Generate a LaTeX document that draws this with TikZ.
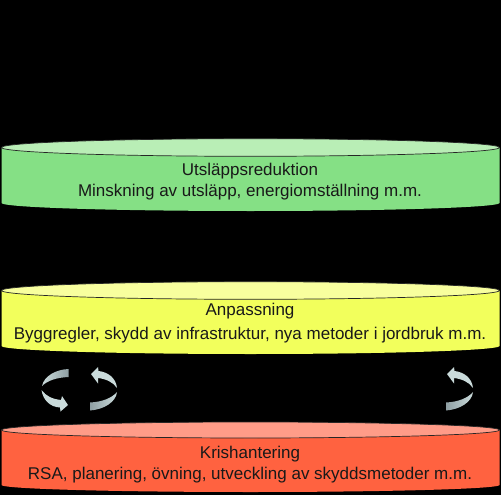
\documentclass[tikz,border=0pt]{standalone}
\usepackage{fontspec}
\setmainfont{Liberation Sans}
\tikzset{
  x=1pt,y=-1pt,
  lbl/.style={font=\fontsize{17}{20}\selectfont,text=black!90,inner sep=0pt,anchor=base}
}
\definecolor{gbody}{HTML}{85E085}\definecolor{glid}{HTML}{B9EEB6}
\definecolor{ybody}{HTML}{F2FF5C}\definecolor{ylid}{HTML}{F8FF9E}
\definecolor{rbody}{HTML}{FF6240}\definecolor{rlid}{HTML}{FF9C88}
\definecolor{swlight}{HTML}{CADBDB}\definecolor{swdark}{HTML}{8F9FA3}
\newcommand{\disc}[6]{% top y of side, bottom y of side, ry, bottom ry, body, lid
  \fill[#5] (1.5,#1) -- (1.5,#2) arc[start angle=180,end angle=0,x radius=249,y radius=#4] -- (499.5,#1) -- cycle;
  \draw[fill=#6,line width=0.7pt,draw=black!85] (250.5,#1) ellipse[x radius=249,y radius=#3];
}
\begin{document}
\begin{tikzpicture}
\useasboundingbox (0,0) rectangle (501,495);
\fill[black] (0,0) rectangle (501,495);
\disc{147.5}{203}{8.8}{8}{gbody}{glid}
\disc{290.5}{346}{8.8}{8}{ybody}{ylid}
\disc{430}{485}{8}{7}{rbody}{rlid}
\node[lbl] (g1) at (250,175) {Utsläppsreduktion};
\node[lbl] (g2) at (250,196) {Minskning av utsläpp, energiomställning m.m.};
\node[lbl] (y1) at (250,315) {Anpassning};
\node[lbl] (y2) at (250,339) {Byggregler, skydd av infrastruktur, nya metoder i jordbruk m.m.};
\node[lbl] (r1) at (250,458) {Krishantering};
\node[lbl] (r2) at (250,479) {RSA, planering, övning, utveckling av skyddsmetoder m.m.};
% left pair
\fill[left color=swlight,right color=swdark] (42,386) .. controls (44,376) and (56,369.5) .. (68.5,369) -- (68.5,377) .. controls (56,377.5) and (47,381) .. (42,386) -- cycle;
\fill[swlight] (41.5,390) .. controls (46,396) and (52,399) .. (61,400) -- (62,396) -- (68,405) -- (60.5,411.5) -- (60,407.5) .. controls (50,407) and (43,400) .. (41.5,390) -- cycle;
\fill[left color=swdark,right color=swlight] (90,402.5) .. controls (102,402) and (112,398) .. (117,392) .. controls (116,402) and (104,409.5) .. (90,410.5) -- cycle;
\fill[swlight] (117,388) .. controls (113,382) and (106,379) .. (98,378) -- (98,383.5) -- (91,374) -- (98,367) -- (98.5,371) .. controls (108,372) and (116,378) .. (117,388) -- cycle;
% right one
\fill[left color=swdark,right color=swlight] (446,402.5) .. controls (458,402) and (468,398) .. (473,392) .. controls (472,402) and (460,409.5) .. (446,410.5) -- cycle;
\fill[swlight] (473,388) .. controls (469,382) and (462,379) .. (454,378) -- (454,383.5) -- (447,374) -- (454,367) -- (454.5,371) .. controls (464,372) and (472,378) .. (473,388) -- cycle;
\end{tikzpicture}
\end{document}
